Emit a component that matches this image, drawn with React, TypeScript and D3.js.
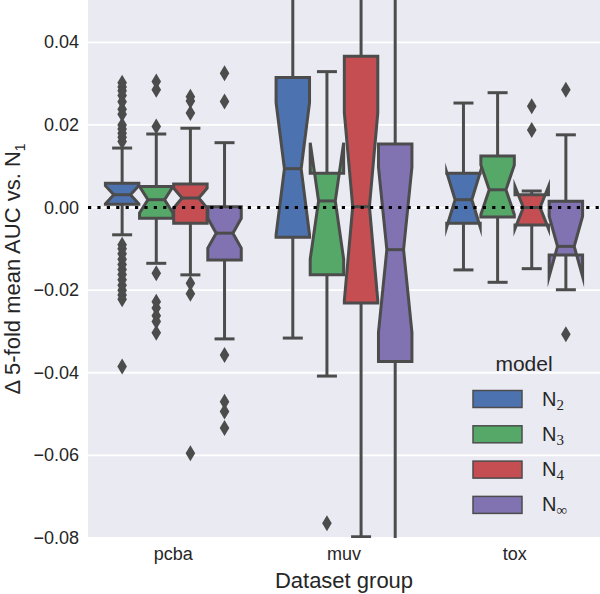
import React from "react";
import * as d3 from "d3";

const groups = ["pcba", "muv", "tox"];
const models = ["N2", "N3", "N4", "N∞"];
const modelSubs = ["2", "3", "4", "∞"];
const colors = ["#4C72B0", "#55A868", "#C44E52", "#8172B2"];
const yTicks = [-0.08, -0.06, -0.04, -0.02, 0, 0.02, 0.04];

// [group][model]
const q1 = [
  [0.0008, -0.0026, -0.0038, -0.0127],
  [-0.0072, -0.0163, -0.0231, -0.0373],
  [-0.0038, -0.0023, -0.0042, -0.0115],
];
const medians = [
  [0.0031, 0.0019, 0.0023, -0.0062],
  [0.0094, 0.0016, 0.0002, -0.0102],
  [0.0019, 0.0043, 0.0, -0.0094],
];
const q3 = [
  [0.0059, 0.0051, 0.0057, 0.0002],
  [0.0315, 0.0083, 0.0366, 0.0154],
  [0.0083, 0.0125, 0.0031, 0.0015],
];
const notchLo = [
  [0.0009, -0.0013, -0.0001, -0.0098],
  [-0.0066, -0.0125, -0.0225, -0.0302],
  [-0.0047, -0.0017, -0.0051, -0.0167],
];
const notchHi = [
  [0.0053, 0.0051, 0.0047, -0.0026],
  [0.0254, 0.0157, 0.0229, 0.0098],
  [0.0085, 0.0103, 0.0051, -0.0021],
];
const whiskerLo = [
  [-0.0066, -0.0135, -0.0163, -0.0318],
  [-0.0316, -0.0408, -0.0797, -0.1],
  [-0.0151, -0.0181, -0.0148, -0.0199],
];
const whiskerHi = [
  [0.0144, 0.0178, 0.0192, 0.0157],
  [0.075, 0.0329, 0.08, 0.07],
  [0.0253, 0.0278, 0.004, 0.0176],
];
const fliers = [
  [
    [0.0302, 0.0292, 0.0283, 0.0271, 0.0256, 0.0238, 0.0226, 0.02, 0.019, 0.018, 0.017, 0.016,
     -0.009, -0.01, -0.0112, -0.0125, -0.0138, -0.015, -0.0162, -0.0175, -0.0188, -0.02, -0.0212, -0.0222, -0.0385],
    [0.0305, 0.0285, 0.0196, -0.0159, -0.0228, -0.0243, -0.0262, -0.0276, -0.0303],
    [0.0268, 0.0258, 0.0229, -0.0183, -0.0209, -0.0595],
    [0.0325, 0.0257, -0.0357, -0.047, -0.0494, -0.0534],
  ],
  [[], [-0.0764], [], []],
  [[], [], [0.0245, 0.0188], [0.0285, -0.0307]],
];

const GRAY = "#4c4c4c";
const FONT = "'Liberation Sans', Arial, sans-serif";
const TEXT = "#262626";

export default function App() {
  const left = 88, right = 600, top = 0, bottom = 538;
  const x = d3.scaleBand<string>().domain(groups).range([left, right]);
  const xh = d3
    .scaleBand<string>()
    .domain(models)
    .range([-0.4 * x.bandwidth(), 0.4 * x.bandwidth()]);
  const y = d3.scaleLinear().domain([-0.08, 0.05]).range([bottom, 1]);
  const bw = xh.bandwidth() * 0.98;
  const capW = 20;
  const line = d3.line();

  const boxes: JSX.Element[] = [];
  groups.forEach((g, gi) => {
    models.forEach((m, mi) => {
      const cx = (x(g) as number) + x.bandwidth() / 2 + (xh(m) as number) + xh.bandwidth() / 2;
      const L = cx - bw / 2, R = cx + bw / 2, cL = cx - bw / 4, cR = cx + bw / 4;
      const a = q1[gi][mi], md = medians[gi][mi], b = q3[gi][mi];
      const lo = notchLo[gi][mi], hi = notchHi[gi][mi];
      const pts: [number, number][] = [
        [L, a], [R, a], [R, lo], [cR, md], [R, hi], [R, b], [L, b], [L, hi], [cL, md], [L, lo], [L, a],
      ].map(([px, v]) => [px, y(v)] as [number, number]);
      const wl = whiskerLo[gi][mi], wh = whiskerHi[gi][mi];
      boxes.push(
        <g key={g + m}>
          <line x1={cx} x2={cx} y1={y(a)} y2={y(wl)} stroke={GRAY} strokeWidth={3} />
          <line x1={cx} x2={cx} y1={y(b)} y2={y(wh)} stroke={GRAY} strokeWidth={3} />
          <line x1={cx - capW / 2} x2={cx + capW / 2} y1={y(wl)} y2={y(wl)} stroke={GRAY} strokeWidth={3} />
          <line x1={cx - capW / 2} x2={cx + capW / 2} y1={y(wh)} y2={y(wh)} stroke={GRAY} strokeWidth={3} />
          <path d={line(pts) + "Z"} fill={colors[mi]} stroke={GRAY} strokeWidth={3} strokeLinejoin="miter" strokeMiterlimit={10} />
          <line x1={cL} x2={cR} y1={y(md)} y2={y(md)} stroke={GRAY} strokeWidth={3} />
          {fliers[gi][mi].map((v, k) => {
            const yy = y(v);
            return (
              <path key={k} d={`M${cx},${yy - 8}L${cx + 4.8},${yy}L${cx},${yy + 8}L${cx - 4.8},${yy}Z`} fill={GRAY} />
            );
          })}
        </g>
      );
    });
  });

  return (
    <svg width={600} height={594} style={{ position: "absolute", left: 0, top: 0, display: "block" }} fontFamily={FONT}>
      <defs>
        <clipPath id="plotclip">
          <rect x={left} y={top} width={right - left} height={bottom - top} />
        </clipPath>
      </defs>
      <rect x={0} y={0} width={600} height={594} fill="#ffffff" />
      <rect x={left} y={top} width={right - left} height={bottom - top} fill="#EAEAF2" />
      <g clipPath="url(#plotclip)">
        {yTicks.map((t) => (
          <line key={t} x1={left} x2={right} y1={y(t)} y2={y(t)} stroke="#ffffff" strokeWidth={1.8} />
        ))}
        {boxes}
        <line x1={left} x2={right} y1={y(0)} y2={y(0)} stroke="#000" strokeWidth={3} strokeDasharray="3.2 6.2" />
      </g>
      {yTicks.map((t) => (
        <text key={t} x={79} y={y(t)} textAnchor="end" dominantBaseline="central" fontSize={18} fill={TEXT}>
          {d3.format(".2f")(t).replace("-", "−")}
        </text>
      ))}
      {groups.map((g) => (
        <text key={g} x={(x(g) as number) + x.bandwidth() / 2} y={560} textAnchor="middle" fontSize={18} fill={TEXT}>
          {g}
        </text>
      ))}
      <text x={(left + right) / 2} y={588} textAnchor="middle" fontSize={22} fill={TEXT}>
        Dataset group
      </text>
      <text transform={`translate(20,${(top + bottom) / 2}) rotate(-90)`} textAnchor="middle" fontSize={22} fill={TEXT}>
        Δ 5-fold mean AUC vs. N<tspan dy={5} fontSize={14}>1</tspan>
      </text>
      <g>
        <text x={524} y={371} textAnchor="middle" fontSize={21} fill={TEXT}>model</text>
        {models.map((m, i) => {
          const cy = 399 + i * 35.3;
          return (
            <g key={m}>
              <rect x={473} y={cy - 8.5} width={49} height={17} fill={colors[i]} stroke={GRAY} strokeWidth={1.5} />
              <text x={542} y={cy + 6.5} fontSize={20} fill={TEXT}>
                N
                <tspan dy={4} fontSize={15} fontFamily="'Liberation Serif', 'DejaVu Serif', serif">{modelSubs[i]}</tspan>
              </text>
            </g>
          );
        })}
      </g>
    </svg>
  );
}
